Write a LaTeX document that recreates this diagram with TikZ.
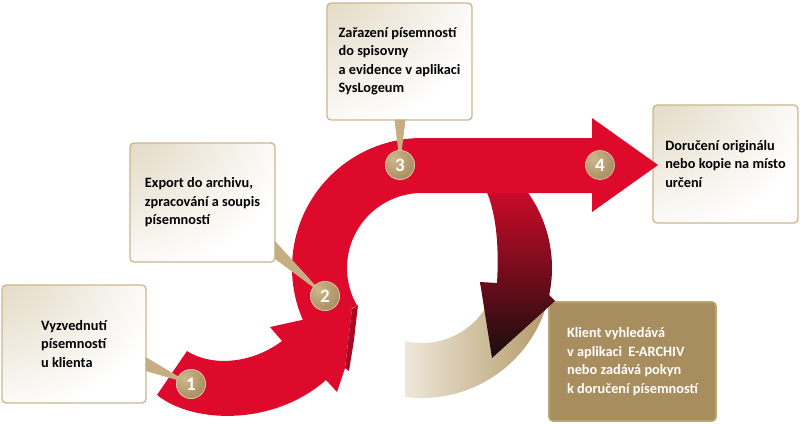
\documentclass[tikz,border=0pt]{standalone}
\usepackage{fontspec}
\setmainfont{Carlito}
\usetikzlibrary{calc}
\definecolor{arrred}{HTML}{DD0A2B}
\definecolor{folddark}{HTML}{A80A22}
\definecolor{goldc}{HTML}{A88D5E}
\definecolor{goldl}{HTML}{CDB88E}
\definecolor{boxborder}{HTML}{C9B68C}
\definecolor{boxtan}{HTML}{D2C3A0}
\definecolor{boxfive}{HTML}{A88D5E}
\definecolor{boxfiveborder}{HTML}{BBA574}
\definecolor{beigeL}{HTML}{EEE7DA}
\definecolor{beigeR}{HTML}{B39967}
\definecolor{darkend}{HTML}{170E0E}
\definecolor{darkmid}{HTML}{6A1E1F}
\definecolor{ptrcol}{HTML}{C4AE82}
\pgfdeclareradialshading{boxshade}{\pgfpoint{-48bp}{48bp}}{color(0bp)=(boxtan); color(25bp)=(boxtan!55!white); color(60bp)=(white); color(150bp)=(white)}
\pgfdeclareradialshading{coinshade}{\pgfpoint{-12bp}{12bp}}{color(0bp)=(goldl); color(35bp)=(goldc); color(65bp)=(goldc!88!black); color(90bp)=(goldc!88!black)}
\tikzset{
  boxn/.style={draw=boxborder, line width=1.3pt, rounded corners=4pt, shade, shading=boxshade,
    align=left, font=\bfseries\fontsize{14.3}{18.5}\selectfont, inner sep=0pt, text=black},
  boxdark/.style={draw=boxfiveborder, line width=1.6pt, rounded corners=4pt, fill=boxfive,
    align=left, font=\bfseries\fontsize{14.3}{18.5}\selectfont, inner sep=0pt, text=white},
  coin/.style={circle, shade, shading=coinshade, draw=goldl!70!white, line width=0.6pt,
    minimum size=29pt, inner sep=0pt, text=white, font=\bfseries\fontsize{19}{19}\selectfont},
  ptr/.style={fill=ptrcol},
  redarr/.style={fill=arrred}
}
\begin{document}
\begin{tikzpicture}[x=1pt,y=-1pt]
\useasboundingbox (0,0) rectangle (800,423);

% boxes
\node[boxn, minimum width=144pt, minimum height=118pt] (b1) at (74,344)
  {Vyzvednutí\\písemností\\u klienta\hspace{6pt}};
\node[boxn, minimum width=145pt, minimum height=119pt] (b2) at (202.5,202.5)
  {Export do archivu,\\zpracování a soupis\\písemností};
\node[boxn, minimum width=145pt, minimum height=117pt] (b3) at (399.5,61.5)
  {Zařazení písemností\\do spisovny\\a evidence v aplikaci\\SysLogeum};
\node[boxn, minimum width=145pt, minimum height=118pt] (b4) at (725.5,164)
  {Doručení originálu\\nebo kopie na místo\\určení};
\node[boxdark, minimum width=167pt, minimum height=119pt] (b5) at (632.5,361.5)
  {Klient vyhledává\\v aplikaci\hspace{3pt} E-ARCHIV\\nebo zadává pokyn\\k doručení písemností};

% beige fading arc
\shade[left color=beigeL, right color=beigeR]
  plot[domain=97.5:10, samples=40] ({422+130*cos(\x)},{268+130*sin(\x)})
  -- plot[domain=15:103, samples=40] ({422+75*cos(\x)},{268+75*sin(\x)}) -- cycle;

% dark returning arrow
\shade[top color=arrred, middle color=darkmid, bottom color=darkend]
  (484,175) -- plot[domain=-45:12, samples=40] ({422+130*cos(\x)},{268+130*sin(\x)})
  -- (555,301) -- (492,358) -- (480,282) -- (497,283)
  .. controls (499,250) and (497,215) .. (486,190) -- cycle;

% main red arrow (ring + straight part)
\fill[redarr]
  plot[domain=150:270, samples=60] ({422+130*cos(\x)},{268+130*sin(\x)})
  -- (592,138) -- (592,118) -- (658,165) -- (592,212) -- (592,193) -- (422,193)
  -- plot[domain=270:150, samples=60] ({422+75*cos(\x)},{268+75*sin(\x)}) -- cycle;

% first red arrow
\fill[redarr] (157,395) .. controls (195,425) and (275,425) .. (326,380)
  -- (337,392) -- (345,368) -- (352,309) -- (270,327) -- (282,341)
  .. controls (250,365) and (210,366) .. (187,351) -- cycle;
\fill[folddark] (352,309) -- (358,305) -- (354,340) -- (349,371) -- (345,368) -- cycle;

% number coins
\node[coin] (c1) at (191,384) {1};
\node[coin] (c2) at (325,296) {2};
\node[coin] (c3) at (400,165) {3};
\node[coin] (c4) at (600,165) {4};

% callout pointers
\fill[ptr] ($(b1.east)+(-1,13)$) -- ($(b1.east)+(-1,27)$) -- (c1.center) -- cycle;
\fill[ptr] ($(b2.south east)+(-1,-22)$) -- ($(b2.south east)+(-1,-4)$) -- (c2.center) -- cycle;
\fill[ptr] ($(b3.south)+(-5,-1)$) -- ($(b3.south)+(6,-1)$) -- (c3.center) -- cycle;

% coins again, on top of the pointers
\node[coin] at (c1) {1};
\node[coin] at (c2) {2};
\node[coin] at (c3) {3};
\end{tikzpicture}
\end{document}
